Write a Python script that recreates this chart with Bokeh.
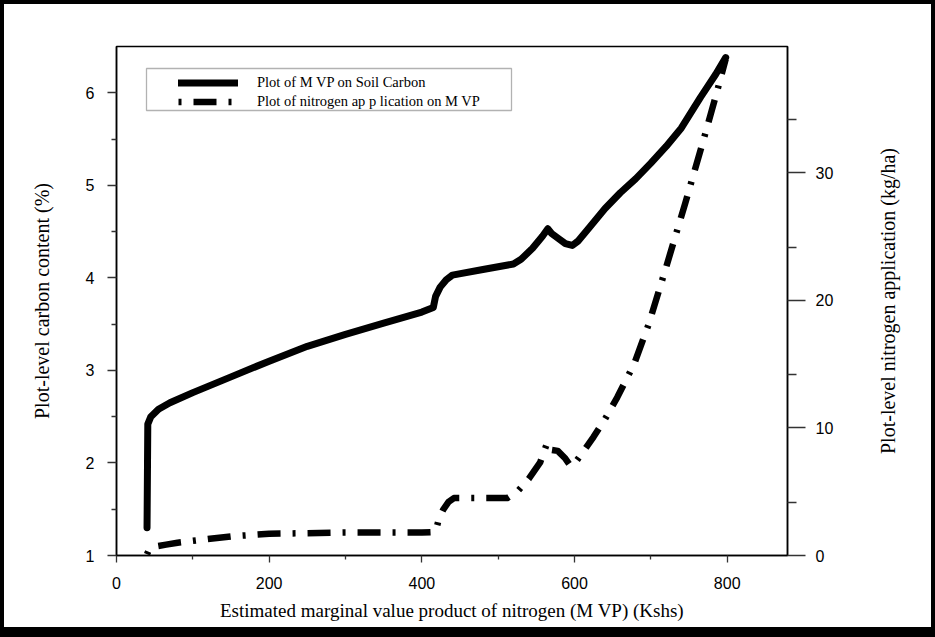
from bokeh.plotting import figure
from bokeh.layouts import row
from bokeh.models import Range1d, LinearAxis, FixedTicker, Legend, LegendItem, BoxAnnotation
from bokeh.embed import file_html
from bokeh.resources import INLINE

# ---- data ----
mvp_x = [40, 41, 45, 55, 70, 100, 150, 200, 250, 300, 350, 400, 415, 418, 424, 432,
         440, 480, 520, 530, 545, 558, 565, 570, 578, 588, 597, 605, 620, 640, 660,
         680, 700, 720, 740, 765, 785, 798]
carbon = [1.3, 2.42, 2.5, 2.58, 2.65, 2.76, 2.93, 3.1, 3.26, 3.39, 3.51, 3.63, 3.68,
          3.8, 3.9, 3.98, 4.03, 4.09, 4.15, 4.2, 4.32, 4.45, 4.53, 4.48, 4.43, 4.37,
          4.35, 4.4, 4.55, 4.75, 4.92, 5.07, 5.24, 5.42, 5.62, 5.95, 6.2, 6.38]

n_x = [40, 42, 50, 65, 80, 100, 150, 200, 250, 300, 350, 400, 418, 422, 428, 435, 442,
       480, 512, 525, 540, 555, 564, 567, 578, 588, 595, 600, 612, 625, 640, 656, 678,
       697, 720, 745, 770, 785, 798]
nitrogen = [0.1, 0.4, 0.7, 0.85, 1.0, 1.15, 1.5, 1.7, 1.75, 1.8, 1.8, 1.8, 1.85, 2.8,
            3.6, 4.2, 4.5, 4.5, 4.5, 5.0, 6.0, 7.3, 8.8, 8.3, 8.2, 7.6, 7.0, 7.2, 8.2,
            9.3, 10.7, 12.4, 15.0, 18.1, 22.6, 27.6, 32.8, 36.0, 38.9]

x_ticks = [0, 200, 400, 600, 800]
x_minor = [100, 300, 500, 700]
c_ticks = [1, 2, 3, 4, 5, 6]
c_minor = [1.5, 2.5, 3.5, 4.5, 5.5]
n_ticks = [0, 10, 20, 30]
n_minor = [4.15, 14.15, 24.15, 34.15]

x_label = "Estimated marginal value product of nitrogen (M VP) (Kshs)"
c_label = "Plot-level carbon content (%)"
n_label = "Plot-level nitrogen application (kg/ha)"
legend_labels = ["Plot of M VP on Soil Carbon", "Plot of nitrogen ap p lication on M VP"]

SERIF = "Liberation Serif"
SANS = "Liberation Sans"

p = figure(width=867, height=623, output_backend="svg", toolbar_location=None,
           x_range=Range1d(0, 879), y_range=Range1d(1, 6.5),
           min_border_left=112, min_border_right=84, min_border_top=42,
           min_border_bottom=72, x_axis_label=x_label, y_axis_label=c_label)
p.grid.visible = False
p.outline_line_color = "black"
p.outline_line_width = 1.5
p.background_fill_color = "white"
p.border_fill_color = "white"
p.extra_y_ranges = {"n": Range1d(0, 39.9)}

ry = LinearAxis(y_range_name="n", ticker=FixedTicker(ticks=n_ticks, minor_ticks=n_minor))
p.add_layout(ry, "right")

p.xaxis.ticker = FixedTicker(ticks=x_ticks, minor_ticks=x_minor)
p.yaxis[0].ticker = FixedTicker(ticks=c_ticks, minor_ticks=c_minor)

for ax in [p.xaxis[0], p.yaxis[0], ry]:
    ax.axis_line_color = "black"
    ax.axis_line_width = 1.5
    ax.major_tick_line_color = "#333333"
    ax.minor_tick_line_color = "#333333"
    ax.major_tick_line_width = 1.3
    ax.minor_tick_line_width = 1.3
    ax.major_tick_in = 0
    ax.minor_tick_in = 0
    ax.major_label_text_font = SANS
    ax.major_label_text_font_size = "16px"
    ax.major_label_text_color = "black"
    ax.axis_label_text_font = SERIF
    ax.axis_label_text_font_size = "19px"
    ax.axis_label_text_font_style = "normal"
    ax.axis_label_text_color = "black"

xa = p.xaxis[0]
xa.major_tick_out = 7
xa.minor_tick_out = 4
xa.major_label_standoff = 14
xa.axis_label_standoff = 8

ya = p.yaxis[0]
ya.major_tick_out = 9
ya.minor_tick_out = 5
ya.major_label_standoff = 13
ya.axis_label_standoff = 30
ya.axis_label_text_font_size = "20px"

ry.major_tick_out = 18
ry.minor_tick_out = 9
ry.major_label_standoff = 10

r1 = p.line(mvp_x, carbon, line_color="black", line_width=7,
            line_cap="round", line_join="round")
r2 = p.line(n_x, nitrogen, y_range_name="n", line_color="black", line_width=6.5,
            line_dash="3 12 23 12", line_join="round")

box = BoxAnnotation(left=30, right=395, bottom=445, top=487,
                    left_units="screen", right_units="screen",
                    bottom_units="screen", top_units="screen",
                    fill_alpha=0, line_color="black", line_width=1.3)
p.add_layout(box)

legend = Legend(items=[LegendItem(label=legend_labels[0], renderers=[r1]),
                       LegendItem(label=legend_labels[1], renderers=[r2])],
                location=(62, 444), padding=0, spacing=0, margin=0,
                glyph_width=60, glyph_height=19, label_height=19,
                label_standoff=19, border_line_alpha=0, background_fill_alpha=0,
                label_text_font=SERIF, label_text_font_size="14.5px",
                label_text_color="black")
p.add_layout(legend)

# narrow companion panel that carries the right-hand title (reads bottom to top)
q = figure(width=60, height=623, output_backend="svg", toolbar_location=None,
           x_range=Range1d(0, 1), y_range=Range1d(0, 1),
           min_border_left=50, min_border_right=0, min_border_top=42,
           min_border_bottom=72, y_axis_label=n_label)
q.grid.visible = False
q.xaxis.visible = False
q.outline_line_color = None
q.background_fill_color = "white"
q.border_fill_color = "white"
qa = q.yaxis[0]
qa.ticker = FixedTicker(ticks=[])
qa.axis_line_color = None
qa.major_tick_line_color = None
qa.minor_tick_line_color = None
qa.major_tick_out = 0
qa.minor_tick_out = 0
qa.major_label_text_font_size = "0px"
qa.major_label_standoff = 0
qa.axis_label_standoff = 23
qa.axis_label_text_font = SERIF
qa.axis_label_text_font_size = "20px"
qa.axis_label_text_font_style = "normal"
qa.axis_label_text_color = "black"

layout = row(p, q, spacing=0)
layout.styles = {"transform": "translate(4px, 4px)",
                 "box-shadow": "0 0 0 4px black, 0 6px 0 4px black"}

open("out.html", "w").write(file_html(layout, INLINE))
